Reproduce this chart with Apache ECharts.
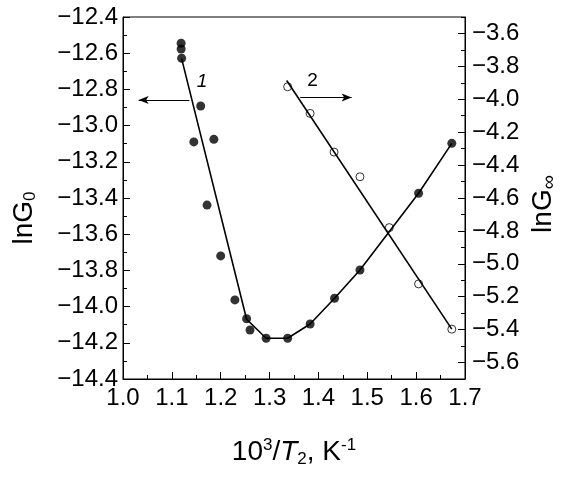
<!DOCTYPE html>
<html>
<head>
<meta charset="utf-8">
<script src="https://cdn.jsdelivr.net/npm/echarts@6/dist/echarts.min.js"></script>
<style>
  html, body { margin: 0; padding: 0; background: #fff; }
  #main { width: 564px; height: 477px; }
</style>
</head>
<body>
<div id="main"></div>
<script>
// curve 1: lnG0 vs 10^3/T2 (left axis, filled dots)
const x1 = [1.119, 1.119, 1.120, 1.145, 1.159, 1.172, 1.186, 1.200, 1.229, 1.253, 1.260, 1.293, 1.337, 1.383, 1.433, 1.485, 1.605, 1.673]
const y1 = [-12.545, -12.577, -12.628, -13.09, -12.892, -13.439, -13.076, -13.72, -13.963, -14.067, -14.129, -14.175, -14.175, -14.096, -13.954, -13.798, -13.374, -13.098]
// drawn line through curve 1
const fit1X = [1.12, 1.253, 1.293, 1.337, 1.383, 1.433, 1.485, 1.605, 1.673]
const fit1Y = [-12.63, -14.07, -14.175, -14.175, -14.096, -13.954, -13.798, -13.374, -13.098]

// curve 2: lnG∞ (right axis, open circles)
const x2 = [1.337, 1.383, 1.432, 1.485, 1.545, 1.605, 1.673]
const y2 = [-3.924, -4.086, -4.321, -4.471, -4.78, -5.122, -5.397]
const fit2X = [1.335, 1.673]
const fit2Y = [-3.886, -5.397]

const rightLabels = [-5.6, -5.4, -5.2, -5.0, -4.8, -4.6, -4.4, -4.2, -4.0, -3.8, -3.6]

const FONT = "'Liberation Sans', Arial, sans-serif"
const zip = (xs, ys) => xs.map((x, i) => [x, ys[i]])
const fmt = (v) => (v < 0 ? '\u2212' : '') + Math.abs(v).toFixed(1)

const chart = echarts.init(document.getElementById('main'))

const tickStyle = { color: '#000', width: 1 }
const labelStyle = { color: '#000', fontFamily: FONT, fontSize: 24 }

const option = {
  animation: false,
  backgroundColor: '#fff',
  grid: {
    left: 123, right: 99, top: 17, bottom: 98,
    show: true, borderColor: '#000', borderWidth: 1
  },
  xAxis: {
    type: 'value', min: 1.0, max: 1.7, interval: 0.1,
    axisLine: { lineStyle: { color: '#000' } },
    axisTick: { inside: true, length: 7, lineStyle: tickStyle },
    minorTick: { show: true, splitNumber: 2, length: 4, lineStyle: tickStyle },
    splitLine: { show: false },
    axisLabel: Object.assign({ margin: 7, formatter: (v) => v.toFixed(1) }, labelStyle)
  },
  yAxis: [
    {
      type: 'value', min: -14.4, max: -12.4, interval: 0.2,
      axisLine: { show: true, lineStyle: { color: '#000' } },
      axisTick: { inside: true, length: 7, lineStyle: tickStyle },
      minorTick: { show: true, splitNumber: 2, length: 4, lineStyle: tickStyle },
      splitLine: { show: false },
      axisLabel: Object.assign({ margin: 5, formatter: fmt }, labelStyle)
    },
    {
      type: 'value', position: 'right', min: -5.7, max: -3.5, interval: 0.2,
      axisLine: { show: true, lineStyle: { color: '#000' } },
      axisTick: { inside: true, length: 4, lineStyle: tickStyle },
      minorTick: { show: true, splitNumber: 2, length: 7, lineStyle: tickStyle },
      splitLine: { show: false },
      axisLabel: Object.assign({ margin: 7, formatter: fmt, customValues: rightLabels }, labelStyle)
    }
  ],
  graphic: [
    {
      type: 'text', x: 24, y: 218, rotation: Math.PI / 2,
      style: {
        text: 'lnG{sub|0}', align: 'center', verticalAlign: 'middle',
        fill: '#000', font: '28px ' + FONT,
        rich: { sub: { fontSize: 17, fontFamily: FONT, verticalAlign: 'bottom', padding: [12, 0, 0, 0] } }
      }
    },
    {
      type: 'text', x: 543, y: 204, rotation: Math.PI / 2,
      style: {
        text: 'lnG{sub|\u221e}', align: 'center', verticalAlign: 'middle',
        fill: '#000', font: '28px ' + FONT,
        rich: { sub: { fontSize: 20, fontFamily: FONT, verticalAlign: 'bottom', padding: [12, 0, 0, 0] } }
      }
    },
    {
      type: 'text', x: 294, y: 452,
      style: {
        text: '10{sup|3}/{it|T}{sub|2}, K{sup|-1}', align: 'center', verticalAlign: 'middle',
        fill: '#000', font: '28px ' + FONT,
        rich: {
          sup: { fontSize: 17, fontFamily: FONT, verticalAlign: 'top', padding: [0, 0, 14, 0] },
          sub: { fontSize: 17, fontFamily: FONT, verticalAlign: 'bottom', padding: [14, 0, 0, 0] },
          it: { fontSize: 28, fontFamily: FONT, fontStyle: 'italic' }
        }
      }
    }
  ],
  series: [
    {
      name: 'fit1', type: 'line', yAxisIndex: 0, showSymbol: false, silent: true,
      data: zip(fit1X, fit1Y),
      lineStyle: { color: '#000', width: 1.6 },
      markLine: {
        silent: true, symbol: ['none', 'arrow'], symbolSize: [6, 10],
        lineStyle: { color: '#000', width: 1, type: 'solid' }, label: { show: false },
        data: [[{ coord: [1.136, -12.859] }, { coord: [1.032, -12.859] }]]
      },
      markPoint: {
        symbolSize: 0,
        label: { show: true, color: '#000', fontFamily: FONT, fontSize: 19, fontStyle: 'italic', formatter: '1' },
        data: [{ coord: [1.1616, -12.757] }]
      }
    },
    {
      name: 'fit2', type: 'line', yAxisIndex: 1, showSymbol: false, silent: true,
      data: zip(fit2X, fit2Y),
      lineStyle: { color: '#000', width: 1.6 },
      markLine: {
        silent: true, symbol: ['none', 'arrow'], symbolSize: [6, 10],
        lineStyle: { color: '#000', width: 1, type: 'solid' }, label: { show: false },
        data: [[{ coord: [1.3626, -3.989] }, { coord: [1.468, -3.989] }]]
      },
      markPoint: {
        symbolSize: 0,
        label: { show: true, color: '#000', fontFamily: FONT, fontSize: 19, formatter: '2' },
        data: [{ coord: [1.388, -3.89] }]
      }
    },
    {
      name: 'lnG0', type: 'scatter', yAxisIndex: 0,
      data: zip(x1, y1), symbol: 'circle', symbolSize: 9,
      itemStyle: { color: '#000' }
    },
    {
      name: 'lnGinf', type: 'scatter', yAxisIndex: 1,
      data: zip(x2, y2), symbol: 'circle', symbolSize: 8,
      itemStyle: { color: '#fff', borderColor: '#000', borderWidth: 1 }
    }
  ]
}

chart.setOption(option)
</script>
</body>
</html>
